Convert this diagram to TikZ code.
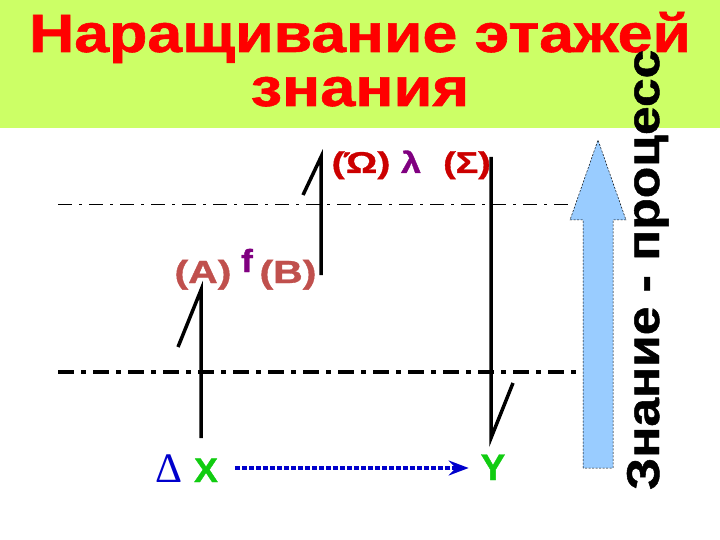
\documentclass[tikz,border=0pt]{standalone}
\usepackage{fontspec}
\usepackage{graphicx}
\setmainfont{Liberation Sans}
\newfontfamily\heavy{Liberation Sans Bold}[FakeBold=1]
\newfontfamily\serifgr{Liberation Serif}
\usetikzlibrary{arrows.meta}
\definecolor{band}{HTML}{CCFF66}
\definecolor{titlered}{HTML}{FF0000}
\definecolor{dred}{HTML}{CC0000}
\definecolor{rosered}{HTML}{C0504D}
\definecolor{purp}{HTML}{800080}
\definecolor{grn}{HTML}{11CC11}
\definecolor{arrowblue}{HTML}{99CCFF}
\definecolor{flowblue}{HTML}{0000CC}
\newcommand{\wide}[2]{\scalebox{#1}[1]{#2}}
\begin{document}
\begin{tikzpicture}[x=1pt,y=-1pt,
  every node/.style={inner sep=0pt,outer sep=0pt},
  titletxt/.style={font=\fontsize{54}{58}\selectfont\heavy,text=titlered,anchor=base},
  sidetxt/.style={font=\fontsize{46}{50}\selectfont\heavy,text=black,rotate=90,anchor=base west},
  lbl/.style={font=\fontsize{#1}{#1}\selectfont\heavy,anchor=base},
  stem/.style={line width=3.5pt,black,line join=miter},
  thinline/.style={draw=black,line width=0.7pt,double=white,double distance=1.6pt,
     dash pattern=on 14pt off 7pt on 3pt off 7pt},
  thickline/.style={black,line width=4pt,dash pattern=on 16pt off 7pt on 5pt off 7pt},
  flow/.style={flowblue,line width=4pt,dash pattern=on 5pt off 2pt,
     -{Stealth[length=20pt,width=15pt,inset=7pt]}}
]
\useasboundingbox (0,0) rectangle (720,540);
\fill[band] (0,0) rectangle (720,128);
\node[titletxt] (t1) at (360,52) {\wide{1.16}{Наращивание этажей}};
\node[titletxt] (t2) at (360,106) {\wide{1.17}{знания}};

% level lines
\coordinate (u1) at (58,206); \coordinate (u2) at (572,206);
\coordinate (l1) at (58,372); \coordinate (l2) at (582,372);
\draw[thinline] (u1) -- (u2);
\draw[thickline] (l1) -- (l2);

% big arrow
\path[fill=arrowblue,draw=black,line width=0.5pt,dash pattern=on 2pt off 1.5pt]
  (583,468) -- (583,220) -- (570,220) -- (598,140) -- (626,220) -- (613,220) -- (613,468) -- cycle;
\node[sidetxt] (side) at (659,490) {\wide{1.12}{Знание - процесс}};

% stems
\coordinate (a1) at (178,347); \coordinate (a2) at (201,290); \coordinate (a3) at (201,438);
\coordinate (b1) at (303,195); \coordinate (b2) at (321,157); \coordinate (b3) at (321,275);
\coordinate (c1) at (491,157); \coordinate (c2) at (491,438); \coordinate (c3) at (513,383);
\draw[stem] (a1) -- (a2) -- (a3);
\draw[stem] (b1) -- (b2) -- (b3);
\draw[stem] (c1) -- (c2) -- (c3);

% labels
\node[lbl=32,text=rosered] (A) at (203,283) {\wide{1.28}{(A)}};
\node[lbl=32,text=purp] (f) at (247,272) {\wide{1.1}{f}};
\node[lbl=32,text=rosered] (B) at (288,283) {\wide{1.28}{(B)}};
\node[lbl=30,text=dred] (Om) at (361,173) {\wide{1.3}{(Ώ)}};
\node[lbl=30,text=purp] (lam) at (411,173) {\wide{1.2}{λ}};
\node[lbl=30,text=dred] (Sig) at (467,173) {\wide{1.25}{(Σ)}};

\node[font=\serifgr\fontsize{42}{42}\selectfont,text=flowblue,anchor=base] (D) at (169,482) {Δ};
\node[lbl=34,text=grn] (X) at (206,482) {\wide{1.05}{X}};
\node[lbl=37,text=grn] (Y) at (493,480) {Y};
\draw[flow] ([xshift=17pt,yshift=14pt]X.base east) -- ([xshift=-12pt,yshift=12pt]Y.base west);
\end{tikzpicture}
\end{document}
